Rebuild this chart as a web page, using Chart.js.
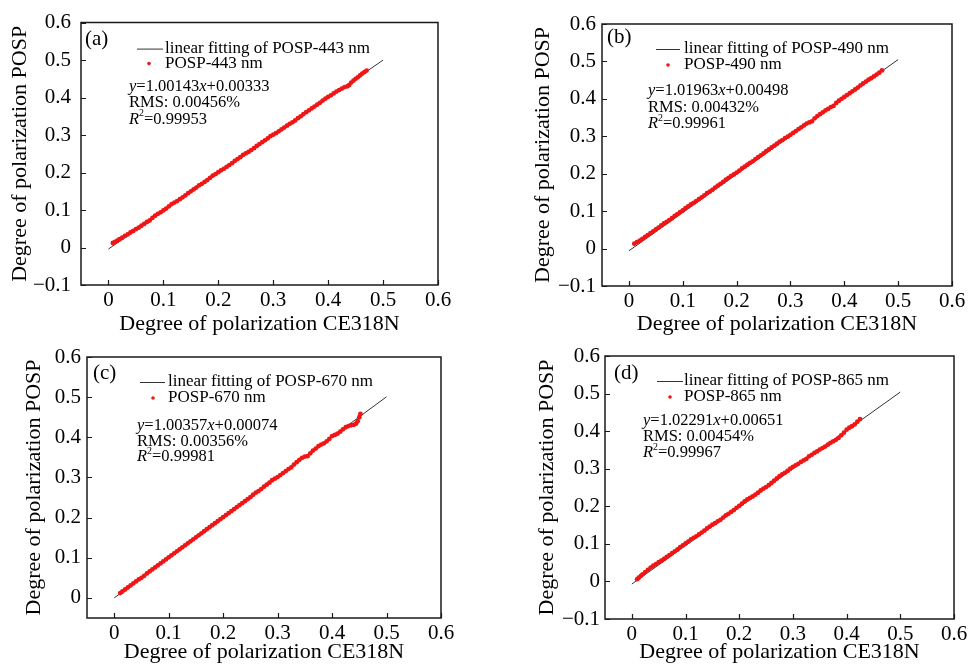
<!DOCTYPE html>
<html>
<head>
<meta charset="utf-8">
<script src="https://cdn.jsdelivr.net/npm/chart.js@4/dist/chart.umd.min.js"></script>
<style>
    body { margin: 0; background: #fff; }
    #wrap { position: relative; width: 971px; height: 665px; overflow: hidden; background: #fff; }
    #wrap canvas { position: absolute; }
</style>
</head>
<body>
<div id="wrap">
    <canvas id="chartA" width="485" height="345" style="left:0;top:0"></canvas>
    <canvas id="chartB" width="485" height="345" style="left:486px;top:0"></canvas>
    <canvas id="chartC" width="485" height="335" style="left:0;top:330px"></canvas>
    <canvas id="chartD" width="485" height="335" style="left:486px;top:330px"></canvas>
</div>
<script>
// ==========================================================================
// DATA
// ==========================================================================
const xTicks = [0, 0.1, 0.2, 0.3, 0.4, 0.5, 0.6];
const yTicksFull = [-0.1, 0, 0.1, 0.2, 0.3, 0.4, 0.5, 0.6];
const yTicksShort = [0, 0.1, 0.2, 0.3, 0.4, 0.5, 0.6];

// 443 nm
const xA = [0.008,0.012,0.016,0.020,0.025,0.030,0.035,0.040,0.045,0.050,0.055,0.060,0.065,0.070,0.075,0.080,0.085,0.090,0.095,0.100,
    0.105,0.110,0.115,0.120,0.125,0.130,0.135,0.140,0.145,0.150,0.155,0.160,0.165,0.170,0.175,0.180,0.185,0.190,0.195,0.200,
    0.205,0.210,0.215,0.220,0.225,0.230,0.235,0.240,0.245,0.250,0.255,0.260,0.265,0.270,0.275,0.280,0.285,0.290,0.295,0.300,
    0.305,0.310,0.315,0.320,0.325,0.330,0.335,0.340,0.345,0.350,0.355,0.360,0.365,0.370,0.375,0.380,0.385,0.390,0.395,0.400,
    0.405,0.410,0.415,0.420,0.425,0.430,0.435,0.438,0.442,0.446,0.450,0.454,0.458,0.462,0.466,0.470];
const yA = [0.012,0.015,0.018,0.022,0.026,0.031,0.035,0.040,0.044,0.049,0.053,0.058,0.063,0.068,0.072,0.079,0.085,0.090,0.094,0.099,
    0.104,0.110,0.116,0.120,0.124,0.129,0.134,0.139,0.145,0.150,0.155,0.160,0.166,0.170,0.175,0.180,0.186,0.192,0.196,0.201,
    0.206,0.210,0.215,0.220,0.225,0.231,0.236,0.241,0.247,0.251,0.255,0.260,0.265,0.271,0.276,0.281,0.286,0.291,0.297,0.301,
    0.305,0.310,0.315,0.320,0.325,0.330,0.334,0.339,0.345,0.350,0.356,0.361,0.366,0.371,0.376,0.381,0.386,0.392,0.397,0.402,
    0.406,0.411,0.416,0.420,0.424,0.428,0.430,0.433,0.440,0.445,0.450,0.454,0.459,0.464,0.468,0.472];
const fitXA = [0, 0.5];
const fitYA = [-0.004, 0.5];

// 490 nm
const xB = [0.010,0.015,0.020,0.025,0.030,0.035,0.040,0.045,0.050,0.055,0.060,0.065,0.070,0.075,0.080,0.085,0.090,0.095,0.100,
    0.105,0.110,0.115,0.120,0.125,0.130,0.135,0.140,0.145,0.150,0.155,0.160,0.165,0.170,0.175,0.180,0.185,0.190,0.195,0.200,
    0.205,0.210,0.215,0.220,0.225,0.230,0.235,0.240,0.245,0.250,0.255,0.260,0.265,0.270,0.275,0.280,0.285,0.290,0.295,0.300,
    0.305,0.310,0.315,0.320,0.325,0.330,0.335,0.340,0.345,0.350,0.355,0.360,0.365,0.370,0.375,0.380,0.385,0.390,0.395,0.400,
    0.405,0.410,0.415,0.420,0.425,0.430,0.435,0.440,0.445,0.450,0.455,0.460,0.465,0.470];
const yB = [0.013,0.017,0.021,0.026,0.031,0.036,0.041,0.046,0.051,0.056,0.062,0.067,0.071,0.076,0.081,0.087,0.092,0.097,0.102,
    0.108,0.113,0.118,0.122,0.127,0.132,0.137,0.142,0.148,0.152,0.157,0.163,0.168,0.173,0.178,0.184,0.189,0.194,0.198,0.203,
    0.208,0.214,0.219,0.224,0.229,0.233,0.239,0.244,0.249,0.254,0.260,0.265,0.270,0.275,0.280,0.286,0.290,0.295,0.299,0.304,
    0.309,0.314,0.319,0.324,0.329,0.334,0.337,0.340,0.348,0.354,0.359,0.364,0.369,0.373,0.378,0.381,0.389,0.395,0.400,0.405,
    0.410,0.415,0.420,0.425,0.430,0.436,0.441,0.446,0.451,0.455,0.460,0.465,0.470,0.476];
const fitXB = [0, 0.5];
const fitYB = [-0.006, 0.505];

// 670 nm
const xC = [0.011,0.015,0.020,0.025,0.030,0.035,0.040,0.045,0.050,0.055,0.060,0.065,0.070,0.075,0.080,0.085,0.090,0.095,0.100,
    0.105,0.110,0.115,0.120,0.125,0.130,0.135,0.140,0.145,0.150,0.155,0.160,0.165,0.170,0.175,0.180,0.185,0.190,0.195,0.200,
    0.205,0.210,0.215,0.220,0.225,0.230,0.235,0.240,0.245,0.250,0.255,0.260,0.265,0.270,0.275,0.280,0.285,0.290,0.295,0.300,
    0.305,0.310,0.315,0.320,0.325,0.330,0.335,0.340,0.345,0.350,0.355,0.360,0.365,0.370,0.375,0.380,0.385,0.390,0.395,0.400,
    0.405,0.410,0.415,0.420,0.425,0.430,0.435,0.440,0.444,0.447,0.450,0.452];
const yC = [0.012,0.016,0.021,0.026,0.031,0.036,0.041,0.046,0.050,0.055,0.061,0.066,0.071,0.076,0.081,0.086,0.091,0.096,0.101,
    0.106,0.111,0.116,0.121,0.126,0.131,0.136,0.141,0.146,0.151,0.156,0.161,0.166,0.171,0.176,0.181,0.186,0.191,0.196,0.201,
    0.206,0.211,0.216,0.221,0.226,0.231,0.236,0.241,0.246,0.251,0.257,0.262,0.266,0.271,0.277,0.282,0.287,0.293,0.297,0.301,
    0.306,0.311,0.316,0.321,0.325,0.332,0.338,0.344,0.349,0.352,0.353,0.360,0.367,0.372,0.378,0.382,0.385,0.390,0.396,0.403,
    0.406,0.409,0.414,0.420,0.425,0.428,0.430,0.431,0.434,0.440,0.450,0.458];
const fitXC = [0, 0.5];
const fitYC = [0, 0.501];

// 865 nm
const xD = [0.010,0.013,0.017,0.020,0.025,0.030,0.035,0.040,0.045,0.050,0.055,0.060,0.065,0.070,0.075,0.080,0.085,0.090,0.095,0.100,
    0.105,0.110,0.115,0.120,0.125,0.130,0.135,0.140,0.145,0.150,0.155,0.160,0.165,0.170,0.175,0.180,0.185,0.190,0.195,0.200,
    0.205,0.210,0.215,0.220,0.225,0.230,0.235,0.240,0.245,0.250,0.255,0.260,0.265,0.270,0.275,0.280,0.285,0.290,0.295,0.300,
    0.305,0.310,0.315,0.320,0.325,0.330,0.335,0.340,0.345,0.350,0.355,0.360,0.365,0.370,0.375,0.380,0.385,0.390,0.395,0.400,
    0.405,0.410,0.415,0.420,0.425];
const yD = [0.006,0.010,0.015,0.019,0.025,0.031,0.037,0.042,0.046,0.051,0.055,0.060,0.065,0.070,0.075,0.080,0.085,0.091,0.096,0.101,
    0.106,0.112,0.116,0.120,0.125,0.130,0.135,0.141,0.146,0.151,0.155,0.160,0.164,0.170,0.176,0.180,0.185,0.190,0.196,0.201,
    0.207,0.213,0.218,0.222,0.226,0.231,0.236,0.242,0.247,0.251,0.256,0.262,0.268,0.274,0.280,0.285,0.289,0.294,0.300,0.305,
    0.309,0.313,0.318,0.322,0.326,0.333,0.337,0.342,0.346,0.351,0.355,0.359,0.364,0.369,0.373,0.377,0.382,0.389,0.396,0.404,
    0.409,0.413,0.418,0.425,0.432];
const fitXD = [0, 0.5];
const fitYD = [-0.007, 0.504];

// ==========================================================================
// STYLE CONSTANTS
// ==========================================================================
const SERIF = '"Liberation Serif", "Times New Roman", serif';
const INK = '#000';
const RED = 'rgb(240, 22, 22)';
const FIT_COLOR = '#333';

function zip(xs, ys) {
    return xs.map((x, i) => ({ x: x, y: ys[i] }));
}

function fmtTick(v) {
    const n = Number(v.toFixed(1));
    if (n === 0) return '0';
    return n < 0 ? '\u2212' + Math.abs(n) : String(n);
}

// draw a run of text pieces left to right, some italic, some superscript
function drawRuns(ctx, x, y, runs, size) {
    let cx = x;
    runs.forEach(r => {
        const s = r.sup ? size * 0.6 : size;
        ctx.font = (r.it ? 'italic ' : '') + s + 'px ' + SERIF;
        const dy = r.sup ? -size * 0.35 : 0;
        ctx.fillText(r.t, cx, y + dy);
        cx += ctx.measureText(r.t).width;
    });
}

// ==========================================================================
// PLUGINS: frame with inward ticks, panel label, legend and fit text
// ==========================================================================
const framePlugin = {
    id: 'frame',
    afterDraw(chart) {
        const { ctx, chartArea: a, scales } = chart;
        const p = chart.options.plugins.frame;
        ctx.save();
        ctx.strokeStyle = '#1a1a1a';
        ctx.lineWidth = 1.5;
        ctx.beginPath();
        ctx.moveTo(a.left, a.top);
        ctx.lineTo(a.right, a.top);
        ctx.lineTo(a.right, a.bottom);
        ctx.lineTo(a.left, a.bottom);
        ctx.closePath();
        ctx.stroke();
        ctx.lineWidth = 1.2;
        ctx.beginPath();
        xTicks.forEach(v => {
            const px = Math.round(scales.x.getPixelForValue(v)) + 0.5;
            ctx.moveTo(px, a.bottom);
            ctx.lineTo(px, a.bottom - 5);
        });
        p.yTicks.forEach(v => {
            const py = Math.round(scales.y.getPixelForValue(v)) + 0.5;
            ctx.moveTo(a.left, py);
            ctx.lineTo(a.left + 5, py);
        });
        ctx.stroke();

        // panel tag
        ctx.fillStyle = INK;
        ctx.textBaseline = 'middle';
        ctx.textAlign = 'left';
        ctx.font = '21px ' + SERIF;
        ctx.fillText(p.tag, a.left + p.tagX, a.top + p.tagY);

        // legend rows
        const lg = p.legend;
        ctx.strokeStyle = FIT_COLOR;
        ctx.lineWidth = 1;
        ctx.beginPath();
        ctx.moveTo(a.left + lg.x0, a.top + lg.y1 + 0.5);
        ctx.lineTo(a.left + lg.x1, a.top + lg.y1 + 0.5);
        ctx.stroke();
        ctx.fillStyle = RED;
        ctx.beginPath();
        ctx.arc(a.left + lg.dotX, a.top + lg.y2, 1.8, 0, Math.PI * 2);
        ctx.fill();
        ctx.fillStyle = INK;
        ctx.font = '17px ' + SERIF;
        ctx.fillText(p.fitLabel, a.left + lg.tx, a.top + lg.y1);
        ctx.fillText(p.dataLabel, a.left + lg.tx, a.top + lg.y2);

        // fit equation, RMS, R2
        const an = p.note;
        const sz = 16.5;
        drawRuns(ctx, a.left + an.x, a.top + an.y, [
            { t: 'y', it: true }, { t: '=' + p.eq[0] }, { t: 'x', it: true }, { t: '+' + p.eq[1] }
        ], sz);
        drawRuns(ctx, a.left + an.x, a.top + an.y + an.gap, [{ t: 'RMS: ' + p.rms }], sz);
        drawRuns(ctx, a.left + an.x, a.top + an.y + an.gap * 2, [
            { t: 'R', it: true }, { t: '2', sup: true }, { t: '=' + p.r2 }
        ], sz);
        ctx.restore();
    }
};

// ==========================================================================
// CHART BUILDER
// ==========================================================================
function buildPanel(canvasId, panel) {
    const tickFont = { family: SERIF, size: 21 };
    const titleFont = { family: SERIF, size: 22 };
    return new Chart(document.getElementById(canvasId), {
        type: 'scatter',
        data: {
            datasets: [
                {
                    label: panel.dataLabel,
                    data: zip(panel.xs, panel.ys),
                    backgroundColor: RED,
                    borderWidth: 0,
                    pointRadius: 2.4,
                    order: 0
                },
                {
                    label: panel.fitLabel,
                    data: zip(panel.fitX, panel.fitY),
                    showLine: true,
                    borderColor: FIT_COLOR,
                    borderWidth: 1,
                    pointRadius: 0,
                    order: 1
                }
            ]
        },
        options: {
            responsive: false,
            animation: false,
            devicePixelRatio: 1,
            layout: { padding: { left: 0, top: panel.box.top, right: panel.box.right, bottom: 0 } },
            plugins: {
                legend: { display: false },
                tooltip: { enabled: false },
                frame: panel
            },
            scales: {
                x: {
                    type: 'linear',
                    min: -0.05,
                    max: 0.6,
                    afterBuildTicks: s => { s.ticks = xTicks.map(v => ({ value: v })); },
                    afterFit: s => { s.height = panel.box.xh; },
                    grid: { display: false, drawTicks: false },
                    border: { display: false },
                    ticks: { font: tickFont, color: INK, padding: 3, maxRotation: 0, callback: fmtTick },
                    title: {
                        display: true,
                        text: 'Degree of polarization CE318N',
                        font: titleFont,
                        color: INK,
                        padding: { top: 0, bottom: panel.box.xtPad }
                    }
                },
                y: {
                    type: 'linear',
                    min: panel.yMin,
                    max: 0.6,
                    afterBuildTicks: s => { s.ticks = panel.yTicks.map(v => ({ value: v })); },
                    afterFit: s => { s.width = panel.box.yw; },
                    grid: { display: false, drawTicks: false },
                    border: { display: false },
                    ticks: { font: tickFont, color: INK, padding: panel.box.ytick, callback: fmtTick },
                    title: {
                        display: true,
                        text: 'Degree of polarization POSP',
                        font: titleFont,
                        color: INK,
                        padding: { top: panel.box.ytPad, bottom: 0 }
                    }
                }
            }
        },
        plugins: [framePlugin]
    });
}

// ==========================================================================
// PANELS
// ==========================================================================
document.addEventListener('DOMContentLoaded', () => {
    buildPanel('chartA', {
        xs: xA, ys: yA, fitX: fitXA, fitY: fitYA,
        yMin: -0.1, yTicks: yTicksFull,
        tag: '(a)', fitLabel: 'linear fitting of POSP-443 nm', dataLabel: 'POSP-443 nm',
        eq: ['1.00143', '0.00333'], rms: '0.00456%', r2: '0.99953',
        box: { top: 19, right: 47, yw: 81, xh: 60, ytPad: 7, xtPad: 8, ytick: 10 },
        tagX: 4, tagY: 17,
        legend: { x0: 56, x1: 82, tx: 84, dotX: 68, y1: 26, y2: 41 },
        note: { x: 48, y: 64, gap: 16.5 }
    });
    buildPanel('chartB', {
        xs: xB, ys: yB, fitX: fitXB, fitY: fitYB,
        yMin: -0.1, yTicks: yTicksFull,
        tag: '(b)', fitLabel: 'linear fitting of POSP-490 nm', dataLabel: 'POSP-490 nm',
        eq: ['1.01963', '0.00498'], rms: '0.00432%', r2: '0.99961',
        box: { top: 24, right: 19, yw: 116, xh: 59, ytPad: 44, xtPad: 8, ytick: 6 },
        tagX: 5, tagY: 13,
        legend: { x0: 54, x1: 78, tx: 82, dotX: 66, y1: 25, y2: 41 },
        note: { x: 46, y: 67, gap: 16.5 }
    });
    buildPanel('chartC', {
        xs: xC, ys: yC, fitX: fitXC, fitY: fitYC,
        yMin: -0.05, yTicks: yTicksShort,
        tag: '(c)', fitLabel: 'linear fitting of POSP-670 nm', dataLabel: 'POSP-670 nm',
        eq: ['1.00357', '0.00074'], rms: '0.00356%', r2: '0.99981',
        box: { top: 27, right: 44, yw: 87, xh: 47, ytPad: 21, xtPad: 0, ytick: 6 },
        tagX: 6, tagY: 16,
        legend: { x0: 53, x1: 78, tx: 81, dotX: 66, y1: 25, y2: 41 },
        note: { x: 50, y: 69, gap: 15.5 }
    });
    buildPanel('chartD', {
        xs: xD, ys: yD, fitX: fitXD, fitY: fitYD,
        yMin: -0.1, yTicks: yTicksFull,
        tag: '(d)', fitLabel: 'linear fitting of POSP-865 nm', dataLabel: 'POSP-865 nm',
        eq: ['1.02291', '0.00651'], rms: '0.00454%', r2: '0.99967',
        box: { top: 26, right: 17, yw: 119, xh: 46, ytPad: 48, xtPad: 0, ytick: 5 },
        tagX: 9, tagY: 17,
        legend: { x0: 52, x1: 78, tx: 79, dotX: 65, y1: 25, y2: 41 },
        note: { x: 38, y: 65, gap: 16 }
    });
});
</script>
</body>
</html>
